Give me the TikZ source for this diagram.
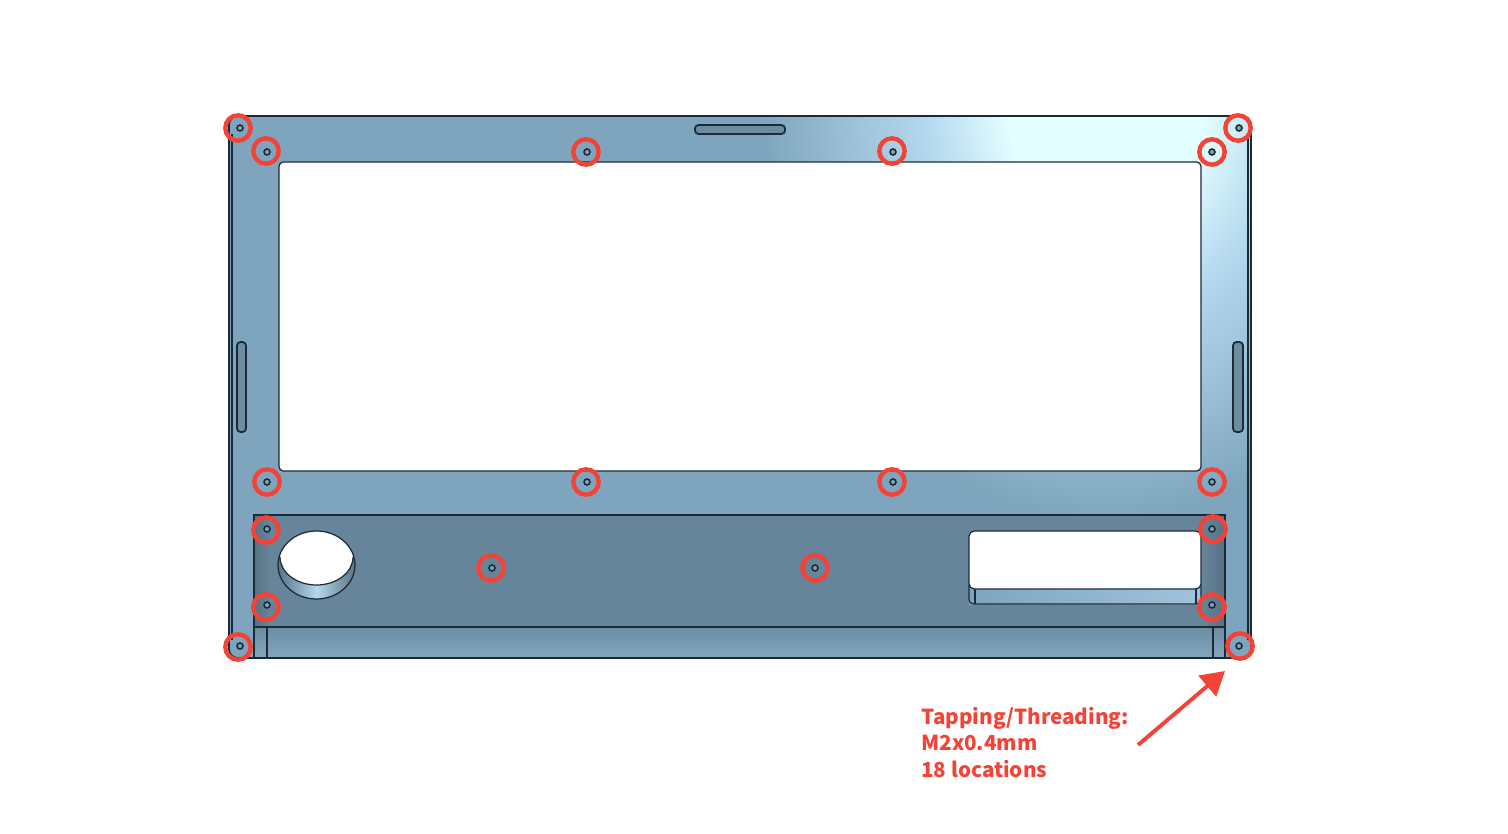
\documentclass[tikz,border=0pt]{standalone}
\usepackage{fontspec}
\usetikzlibrary{arrows.meta}
\newfontfamily\calloutfont{Noto Sans CJK SC}
\definecolor{platebase}{HTML}{7FA5BE}
\definecolor{platelight}{HTML}{E4FFFF}
\definecolor{platemid}{HTML}{B4D8EE}
\definecolor{recessfill}{HTML}{67859A}
\definecolor{edgeline}{HTML}{1B2A36}
\definecolor{markred}{HTML}{F44336}
\pgfdeclareradialshading{plateglow}{\pgfpoint{0bp}{0bp}}{color(0bp)=(platelight); color(7bp)=(platelight); color(13bp)=(platemid); color(25bp)=(platebase); color(50bp)=(platebase)}
\tikzset{
  edge/.style={draw=edgeline,line width=0.7pt},
  holemark/.style={draw=markred,line width=2.5pt},
  slotcut/.style={edge,line width=1pt,fill=platebase!85!black,rounded corners=2pt},
}
\begin{document}
\begin{tikzpicture}[x=0.02cm,y=-0.02cm]
  \useasboundingbox (0,0) rectangle (1508,834);
  \begin{scope}
    \clip[rounded corners=5pt] (229,116) rectangle (1251,658);
    \fill[platebase] (229,116) rectangle (1251,658);
    \shade[shading=plateglow] (1105,100) ellipse [x radius=345, y radius=420];
  \end{scope}
  \draw[edge,line width=1pt,rounded corners=5pt] (229,116) rectangle (1251,658);
  \draw[edge] (232,640) -- (232,134) (1248,134) -- (1248,640) (254,655) -- (1225,655);
  \fill[recessfill] (254,515) rectangle (1225,627);
  \shade[left color=recessfill!85!black,right color=recessfill] (254,515) rectangle (270,627);
  \shade[left color=recessfill,right color=recessfill!85!black] (1201,515) rectangle (1225,627);
  \draw[edge] (254,627) -- (254,515) -- (1225,515) -- (1225,627);
  \shade[top color=platebase!85!black,bottom color=platebase] (254,627) rectangle (1225,655);
  \draw[edge] (254,627) -- (1225,627) (254,627) -- (254,657) (267,627) -- (267,657) (1213,627) -- (1213,657) (1225,627) -- (1225,657);
  \fill[white,rounded corners=2.5pt] (279,162) rectangle (1201,471);
  \draw[edge,rounded corners=2.5pt] (279,162) rectangle (1201,471);
  \draw[slotcut] (695,125) rectangle (785,134);
  \draw[slotcut] (237,342) rectangle (246,432);
  \draw[slotcut] (1233,342) rectangle (1243,432);
  \begin{scope}
    \clip (316.5,565) ellipse [x radius=38.5, y radius=34];
    \shade[left color=platebase!70!black,right color=platebase!70!black,middle color=platemid] (278,531) rectangle (355,599);
    \fill[white] (270,525) -- (362,525) -- (362,557) -- (353,557) arc [start angle=0, end angle=180, x radius=36.5, y radius=28] -- (270,557) -- cycle;
  \end{scope}
  \draw[edge] (316.5,565) ellipse [x radius=38.5, y radius=34];
  \draw[edge] (280,557) arc [start angle=180, end angle=0, x radius=36.5, y radius=28];
  \shade[left color=platebase,right color=platemid!60!platebase] (969,585) rectangle (1201,604);
  \draw[edge,rounded corners=2.5pt] (969,585) -- (969,604) -- (1201,604) -- (1201,585);
  \draw[edge] (975,589) -- (975,604) (1196,589) -- (1196,604);
  \fill[white,rounded corners=3pt] (969,531) rectangle (1201,589);
  \draw[edge,rounded corners=3pt] (969,531) rectangle (1201,589);
  \foreach \cx/\cy/\hx/\hy/\n in {238/128/240/128/a, 266/151/267/152/b, 586/152/587/152/c, 892/151/893/152/d, 1212/152/1212/152/e, 1238/128/1239/128/f, 267/482/267/482/g, 586/482/587/482/h, 892/482/893/482/i, 1212/482/1212/482/j, 266/530/267/529/k, 1213/529/1212/529/l, 491/568/492/568/m, 815/568/815/568/n, 266/607/267/605/o, 1212/607/1212/605/p, 238/647/240/646/q, 1240/646/1239/646/r}{
    \draw[edge,line width=0.9pt,fill=platebase] (\hx,\hy) circle (3);
    \draw[holemark] (\cx,\cy) circle (12.7);
  }
  \coordinate (arrowstart) at (1138,745);
  \coordinate (arrowtip) at (1225,671);
  \draw[-{Triangle[length=19pt*0.7,width=19pt*0.8]},draw=markred,fill=markred,line width=2.2pt,color=markred] (arrowstart) -- (arrowtip);
  \node[anchor=north west,inner sep=0pt,align=left,text=markred,font=\calloutfont\bfseries\fontsize{11.75}{15}\selectfont] (calloutlabel) at (921,707) {Tapping/Threading:\\M2x0.4mm\\18 locations};
\end{tikzpicture}
\end{document}
